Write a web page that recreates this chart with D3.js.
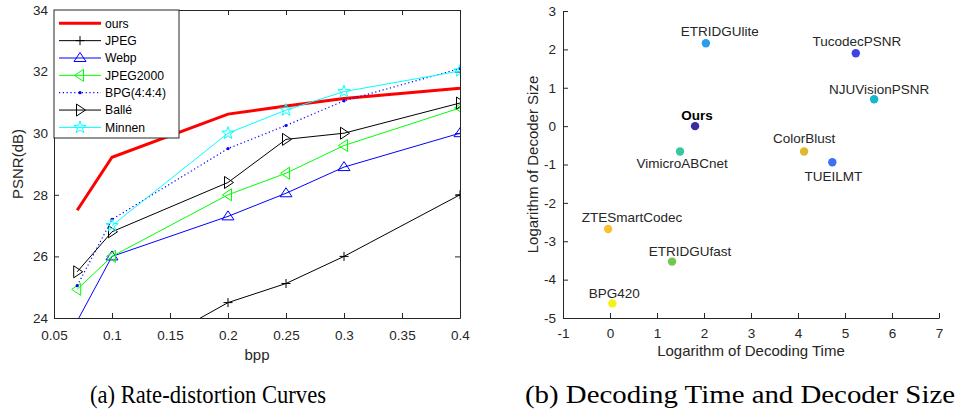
<!DOCTYPE html>
<html>
<head>
<meta charset="utf-8">
<script src="https://cdn.jsdelivr.net/npm/d3@7"></script>
<style>
  body { margin: 0; background: #fff; }
  svg text { font-family: "Liberation Sans", Arial, sans-serif; }
  svg text.caption { font-family: "Liberation Serif", "DejaVu Serif", serif; }
  .axis path, .axis line { stroke: #262626; }
  .axis text { fill: #262626; font-size: 13.5px; }
</style>
</head>
<body>
<div id="chart"></div>
<script>
// ---- (a) rate-distortion data ----
var bpp = [0.07, 0.1, 0.2, 0.25, 0.3, 0.4];
var oursPsnr     = [27.5, 29.22, 30.62, 30.88, 31.13, 31.46];
var jpegPsnr     = [21.2, 22.4, 24.5, 25.12, 26.0, 28.0];
var webpPsnr     = [23.9, 26.0, 27.3, 28.05, 28.9, 30.0];
var jpeg2000Psnr = [24.93, 26.0, 28.0, 28.7, 29.6, 30.82];
var bpgPsnr      = [25.05, 27.2, 29.5, 30.25, 31.05, 32.1];
var ballePsnr    = [25.5, 26.8, 28.4, 29.8, 30.0, 30.98];
var minnenPsnr   = [null, 27.0, 30.0, 30.75, 31.35, 32.02];
var rdNames = ["ours", "JPEG", "Webp", "JPEG2000", "BPG(4:4:4)", "Ballé", "Minnen"];
var bppTicks = [0.05, 0.1, 0.15, 0.2, 0.25, 0.3, 0.35, 0.4];
var psnrTicks = [24, 26, 28, 30, 32, 34];

// ---- (b) decoding time vs decoder size ----
var methods = ["ETRIDGUlite", "TucodecPSNR", "NJUVisionPSNR", "Ours", "VimicroABCnet",
               "ColorBlust", "TUEILMT", "ZTESmartCodec", "ETRIDGUfast", "BPG420"];
var logTime = [2.04, 5.23, 5.62, 1.81, 1.49, 4.13, 4.73, -0.04, 1.32, 0.05];
var logSize = [2.16, 1.90, 0.70, 0.0, -0.66, -0.66, -0.94, -2.68, -3.53, -4.62];
var timeTicks = [-1, 0, 1, 2, 3, 4, 5, 6, 7];
var sizeTicks = [-5, -4, -3, -2, -1, 0, 1, 2, 3];

var W = 958, H = 412;
var svg = d3.select("#chart").append("svg")
  .attr("width", W).attr("height", H);
svg.append("rect").attr("width", W).attr("height", H).attr("fill", "#fff");

//### left chart ###
var x = d3.scaleLinear().domain([0.05, 0.4]).range([54, 460]);
var y = d3.scaleLinear().domain([24, 34]).range([318, 10]);
var fmt = function(d) { return String(+d.toFixed(2)); };

svg.append("g").attr("class", "axis").attr("transform", "translate(0,318)")
  .call(d3.axisBottom(x).tickValues(bppTicks).tickFormat(fmt).tickSizeInner(-5).tickSizeOuter(0).tickPadding(12));
svg.append("g").attr("class", "axis").attr("transform", "translate(0,10)")
  .call(d3.axisTop(x).tickValues(bppTicks).tickFormat("").tickSizeInner(-5).tickSizeOuter(0));
svg.append("g").attr("class", "axis").attr("transform", "translate(54,0)")
  .call(d3.axisLeft(y).tickValues(psnrTicks).tickFormat(fmt).tickSizeInner(-5).tickSizeOuter(0).tickPadding(6));
svg.append("g").attr("class", "axis").attr("transform", "translate(460,0)")
  .call(d3.axisRight(y).tickValues(psnrTicks).tickFormat("").tickSizeInner(-5).tickSizeOuter(0));

svg.append("text").attr("x", 257).attr("y", 360).attr("text-anchor", "middle")
  .attr("font-size", 15).attr("fill", "#262626").text("bpp");
svg.append("text").attr("transform", "translate(23,164) rotate(-90)").attr("text-anchor", "middle")
  .attr("font-size", 15).attr("fill", "#262626").text("PSNR(dB)");

svg.append("clipPath").attr("id", "clipA").append("rect")
  .attr("x", 54).attr("y", 10).attr("width", 406).attr("height", 308);

// marker shapes
function markerPath(type) {
  if (type === "plus") return "M-4.5,0H4.5M0,-4.5V4.5";
  if (type === "up") return "M0,-5.5L6,3.5L-6,3.5Z";
  if (type === "left") return "M-5.5,0L3.5,-6L3.5,6Z";
  if (type === "right") return "M5.5,0L-3.5,-6L-3.5,6Z";
  if (type === "star") {
    var p = [];
    for (var i = 0; i < 10; i++) {
      var r = i % 2 === 0 ? 6.5 : 2.6;
      var a = -Math.PI / 2 + i * Math.PI / 5;
      p.push((r * Math.cos(a)).toFixed(2) + "," + (r * Math.sin(a)).toFixed(2));
    }
    return "M" + p.join("L") + "Z";
  }
  return null;
}

var series = [
  { name: rdNames[0], vals: oursPsnr,     color: "#ff0000", width: 3,   dash: null,      marker: null },
  { name: rdNames[1], vals: jpegPsnr,     color: "#000000", width: 1,   dash: null,      marker: "plus" },
  { name: rdNames[2], vals: webpPsnr,     color: "#0000ff", width: 1,   dash: null,      marker: "up" },
  { name: rdNames[3], vals: jpeg2000Psnr, color: "#00ff00", width: 1,   dash: null,      marker: "left" },
  { name: rdNames[4], vals: bpgPsnr,      color: "#0000ff", width: 1.2, dash: "1.2,2.6", marker: "dot" },
  { name: rdNames[5], vals: ballePsnr,    color: "#000000", width: 1,   dash: null,      marker: "right" },
  { name: rdNames[6], vals: minnenPsnr,   color: "#00ffff", width: 1,   dash: null,      marker: "star" }
];

var line = d3.line()
  .defined(function(d) { return d[1] !== null; })
  .x(function(d) { return x(d[0]); })
  .y(function(d) { return y(d[1]); });

function drawMarker(g, type, color, cx, cy) {
  if (!type) return;
  if (type === "dot") {
    g.append("circle").attr("cx", cx).attr("cy", cy).attr("r", 1.6).attr("fill", color);
  } else {
    g.append("path").attr("d", markerPath(type)).attr("transform", "translate(" + cx + "," + cy + ")")
      .attr("fill", "none").attr("stroke", color).attr("stroke-width", 1);
  }
}

var plotA = svg.append("g").attr("clip-path", "url(#clipA)");
series.forEach(function(s) {
  var pts = bpp.map(function(b, i) { return [b, s.vals[i]]; });
  plotA.append("path").datum(pts).attr("d", line)
    .attr("fill", "none").attr("stroke", s.color).attr("stroke-width", s.width)
    .attr("stroke-dasharray", s.dash);
  pts.forEach(function(p) {
    if (p[1] === null || p[1] < 24 || p[1] > 34) return;
    drawMarker(plotA, s.marker, s.color, x(p[0]), y(p[1]));
  });
});

// legend
var leg = svg.append("g");
leg.append("rect").attr("x", 54).attr("y", 10).attr("width", 125).attr("height", 128)
  .attr("fill", "#fff").attr("stroke", "#262626").attr("stroke-width", 1);
series.forEach(function(s, i) {
  var ly = 23.3 + i * 17.35;
  leg.append("line").attr("x1", 59).attr("x2", 101).attr("y1", ly).attr("y2", ly)
    .attr("stroke", s.color).attr("stroke-width", s.width).attr("stroke-dasharray", s.dash);
  drawMarker(leg, s.marker, s.color, 80, ly);
  leg.append("text").attr("x", 105).attr("y", ly).attr("dy", "0.36em")
    .attr("font-size", 12.2).attr("fill", "#000").text(s.name);
});

//### right chart ###
var x2 = d3.scaleLinear().domain([-1, 7]).range([563, 939]);
var y2 = d3.scaleLinear().domain([-5, 3]).range([318, 11]);
var fmtInt = function(d) { return String(d); };

svg.append("g").attr("class", "axis").attr("transform", "translate(0,318)")
  .call(d3.axisBottom(x2).tickValues(timeTicks).tickFormat(fmtInt).tickSizeInner(-5).tickSizeOuter(0).tickPadding(10));
svg.append("g").attr("class", "axis").attr("transform", "translate(563,0)")
  .call(d3.axisLeft(y2).tickValues(sizeTicks).tickFormat(fmtInt).tickSizeInner(-5).tickSizeOuter(0).tickPadding(7));

svg.append("text").attr("x", 751).attr("y", 356).attr("text-anchor", "middle")
  .attr("font-size", 15).attr("fill", "#262626").text("Logarithm of Decoding Time");
svg.append("text").attr("transform", "translate(538,164.5) rotate(-90)").attr("text-anchor", "middle")
  .attr("font-size", 15).attr("fill", "#262626").text("Logarithm of Decoder Size");

var pointColors = ["#2c9ced", "#4040e6", "#17b6cf", "#3a2ba0", "#38c69e",
                   "#dfb92c", "#3d70f5", "#fbc032", "#75c550", "#f6ef1a"];
// label placement: [dx, dy] relative to the point
var labelShift = [[14, -7], [1, -7], [5, -5.5], [2, -6], [2, 17],
                  [0, -8], [1, 19], [24, -7], [18, -6], [2, -5]];

var pts2 = svg.append("g");
methods.forEach(function(m, i) {
  var cx = x2(logTime[i]), cy = y2(logSize[i]);
  pts2.append("circle").attr("cx", cx).attr("cy", cy).attr("r", 4.2).attr("fill", pointColors[i]);
  pts2.append("text").attr("x", cx + labelShift[i][0]).attr("y", cy + labelShift[i][1])
    .attr("text-anchor", "middle").attr("font-size", 13.5)
    .attr("font-weight", m === "Ours" ? "bold" : "normal")
    .attr("fill", m === "Ours" ? "#000" : "#262626").text(m);
});

// captions
svg.append("text").attr("class", "caption").attr("x", 90).attr("y", 403)
  .attr("font-size", 25).attr("textLength", 236).attr("lengthAdjust", "spacingAndGlyphs")
  .attr("fill", "#000").text("(a) Rate-distortion Curves");
svg.append("text").attr("class", "caption").attr("x", 525).attr("y", 403)
  .attr("font-size", 25).attr("textLength", 430).attr("lengthAdjust", "spacingAndGlyphs")
  .attr("fill", "#000").text("(b) Decoding Time and Decoder Size");
</script>
</body>
</html>
